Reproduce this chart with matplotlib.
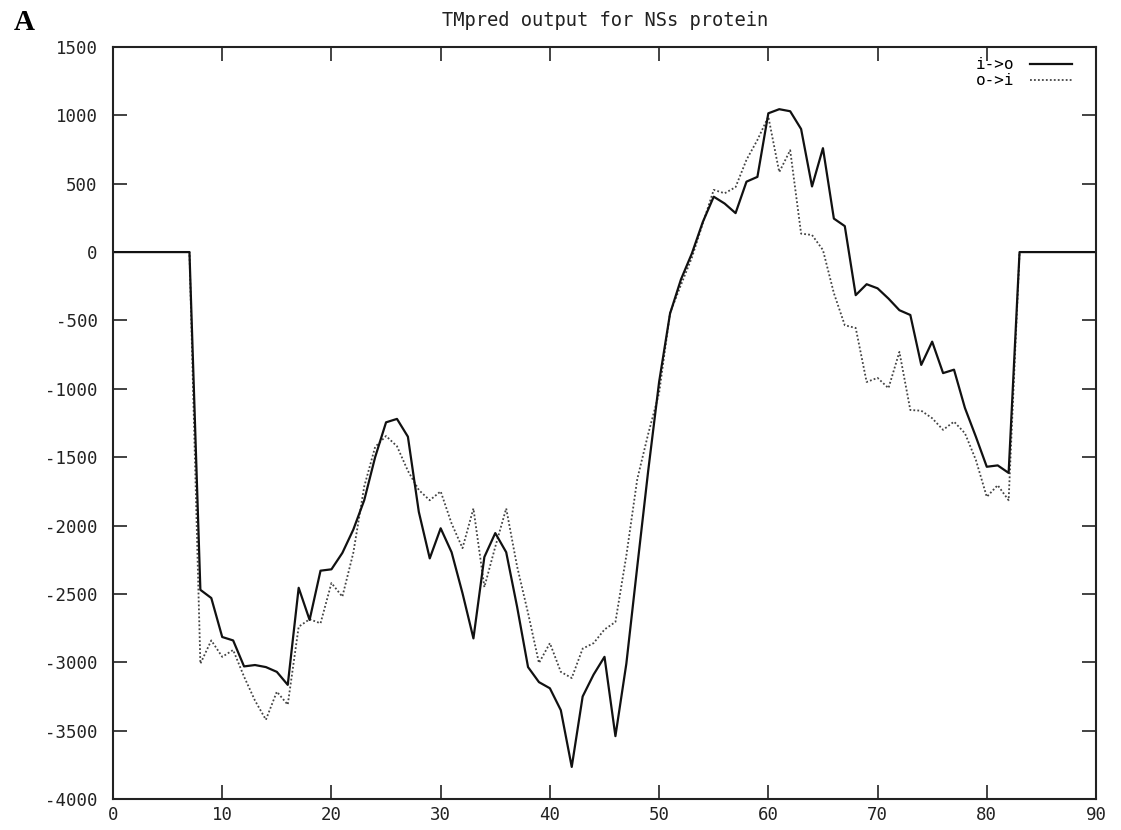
import matplotlib
matplotlib.use("Agg")
import matplotlib.pyplot as plt

# residue positions and TMpred scores
res_flat_left = [0, 7]
res = list(range(8, 83))
res_flat_right = [83, 90]

io_score = [-2470, -2530, -2815, -2840, -3030, -3020, -3035, -3070, -3165, -2455,
            -2690, -2330, -2320, -2200, -2030, -1815, -1500, -1245, -1220, -1350,
            -1900, -2240, -2020, -2195, -2495, -2825, -2230, -2055, -2195, -2595,
            -3035, -3145, -3190, -3350, -3765, -3250, -3090, -2960, -3540, -3010,
            -2300, -1600, -950, -450, -200, -10, 220, 405, 355, 285,
            515, 550, 1015, 1045, 1030, 900, 480, 760, 245, 190,
            -315, -235, -265, -340, -425, -460, -825, -655, -885, -860,
            -1140, -1350, -1570, -1560, -1615]

oi_score = [-3010, -2840, -2960, -2910, -3105, -3280, -3420, -3215, -3310, -2740,
            -2685, -2715, -2420, -2520, -2200, -1715, -1425, -1345, -1420, -1600,
            -1740, -1815, -1750, -1985, -2165, -1875, -2450, -2155, -1875, -2300,
            -2640, -3005, -2860, -3070, -3115, -2900, -2860, -2760, -2705, -2220,
            -1660, -1330, -1030, -445, -240, -40, 210, 455, 430, 475,
            675, 820, 990, 585, 745, 135, 125, 15, -300, -535,
            -555, -950, -920, -995, -730, -1155, -1160, -1215, -1300, -1240,
            -1325, -1520, -1790, -1705, -1815]

x_ticks = list(range(0, 91, 10))
y_ticks = list(range(-4000, 1501, 500))

plt.rcParams["axes.unicode_minus"] = False
plt.rcParams["font.family"] = "DejaVu Sans Mono"

fig = plt.figure(figsize=(11.21, 8.30), dpi=100)
ax = fig.add_axes([0.1008, 0.0373, 0.8769, 0.9061])

x_all = res_flat_left + res + res_flat_right
io_all = [0, 0] + io_score + [0, 0]
oi_all = [0, 0] + oi_score + [0, 0]

ax.plot(x_all, oi_all, color="#444444", lw=1.3, linestyle=(0, (1, 1.2)), label="o->i")
ax.plot(x_all, io_all, color="#111111", lw=1.6, label="i->o")

ax.set_xlim(0, 90)
ax.set_ylim(-4000, 1500)
ax.set_xticks(x_ticks)
ax.set_yticks(y_ticks)
ax.tick_params(direction="in", length=10, width=1.2, top=True, right=True,
               labelsize=12.5, colors="#222222")
ax.tick_params(axis="y", pad=11)
ax.tick_params(axis="x", pad=5)
for sp in ax.spines.values():
    sp.set_linewidth(1.5)
    sp.set_color("#222222")

handles, labels = ax.get_legend_handles_labels()
ax.legend(handles[::-1], labels[::-1], loc="upper right", frameon=False,
          bbox_to_anchor=(0.9817, 0.9947), borderaxespad=0,
          markerfirst=False, handlelength=2.6, fontsize=11.5, labelspacing=0.05,
          handletextpad=1.0)

fig.text(0.5396, 0.975, "TMpred output for NSs protein", ha="center", va="center",
         fontsize=13.5, color="#222222")
fig.text(0.012, 0.973, "A", ha="left", va="center", fontsize=21,
         fontweight="bold", family="Liberation Serif")

fig.savefig("out.png", dpi=100)
